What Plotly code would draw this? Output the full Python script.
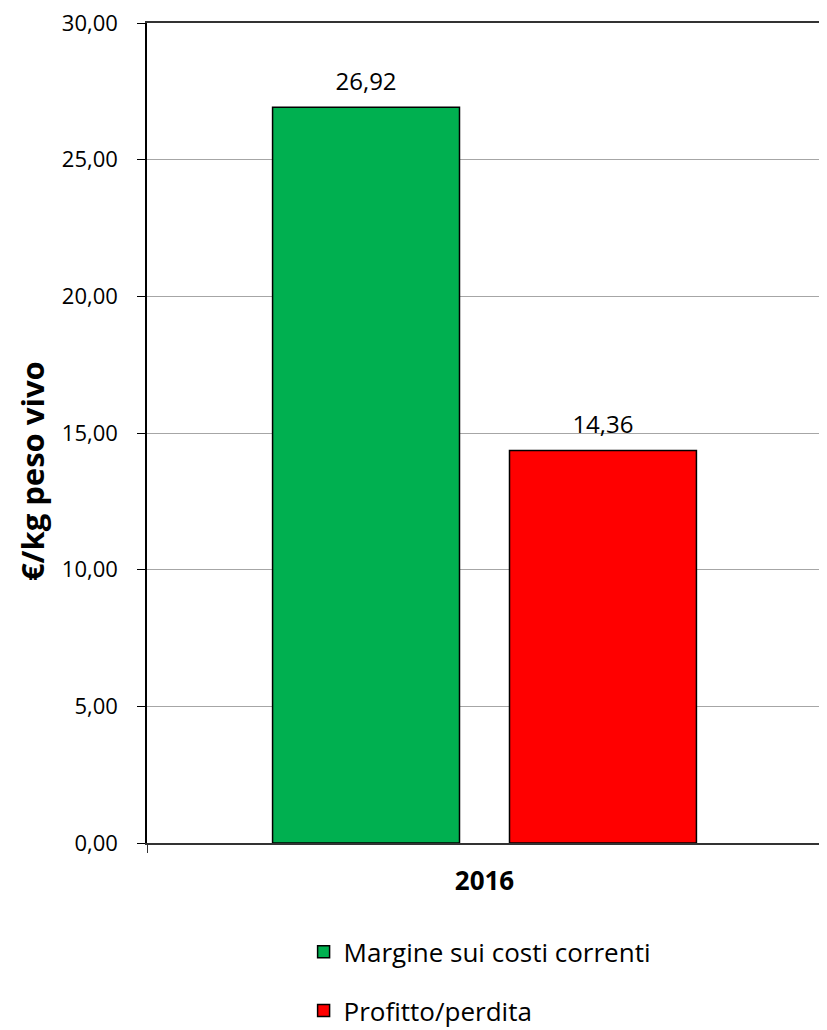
import plotly.graph_objects as go

categories = ["2016"]
series_names = ["Margine sui costi correnti", "Profitto/perdita"]
margine = [26.92]
profitto = [14.36]
colors = ["#00B050", "#FF0000"]
y_ticks = [0, 5, 10, 15, 20, 25, 30]
y_title = "€/kg peso vivo"

fig = go.Figure()
for i, (name, vals) in enumerate(zip(series_names, [margine, profitto])):
    fig.add_trace(go.Bar(
        x=categories, y=vals, name=name,
        marker=dict(color=colors[i], line=dict(color="black", width=1.5)),
        offsetgroup=str(i), legendgroup=str(i),
    ))
for i, vals in enumerate([margine, profitto]):
    fig.add_trace(go.Scatter(
        x=categories, y=vals, mode="text+markers",
        marker=dict(size=16, opacity=0),
        text=[f"{v:.2f}".replace(".", ",") for v in vals],
        textposition="top center",
        textfont=dict(family="Open Sans", size=24, color="black"),
        offsetgroup=str(i), showlegend=False, hoverinfo="skip",
        cliponaxis=False,
    ))

fig.add_annotation(
    text=y_title, textangle=-90, xref="paper", yref="paper",
    x=-0.171, y=0.453, xanchor="center", yanchor="middle", showarrow=False,
    font=dict(family="Open Sans", size=31, color="black", weight="bold"),
)

fig.update_layout(
    width=819, height=1022,
    margin=dict(l=139, r=5, t=15, b=187, autoexpand=False),
    plot_bgcolor="white", paper_bgcolor="white",
    barmode="group", scattermode="group",
    bargap=0.298, bargroupgap=0.211,
    separators=",.",
    font=dict(family="Open Sans", color="black"),
    showlegend=True,
    legend=dict(
        orientation="v", x=0.232, xanchor="left", y=-0.104, yanchor="top",
        font=dict(family="Open Sans", size=26, color="black"),
        tracegroupgap=22, itemwidth=30,
    ),
    xaxis=dict(
        showline=True, linecolor="#333333", linewidth=1.5, mirror=True,
        ticks="outside", tickson="boundaries", ticklen=8, tickcolor="#333333",
        tickfont=dict(family="Open Sans", size=26, color="black", weight="bold"),
        ticklabelstandoff=14,
    ),
    yaxis=dict(
        range=[0, 30], tickvals=y_ticks, tickformat=".2f",
        showline=True, linecolor="black", linewidth=1.5, mirror=True,
        ticks="outside", ticklen=8, tickcolor="black",
        showgrid=True, gridcolor="#A6A6A6", gridwidth=1,
        tickfont=dict(family="Open Sans", size=22, color="black"),
        ticklabelstandoff=15, ticklabeloverflow="allow",
        zeroline=False,
    ),
)
fig.write_html("out.html")
